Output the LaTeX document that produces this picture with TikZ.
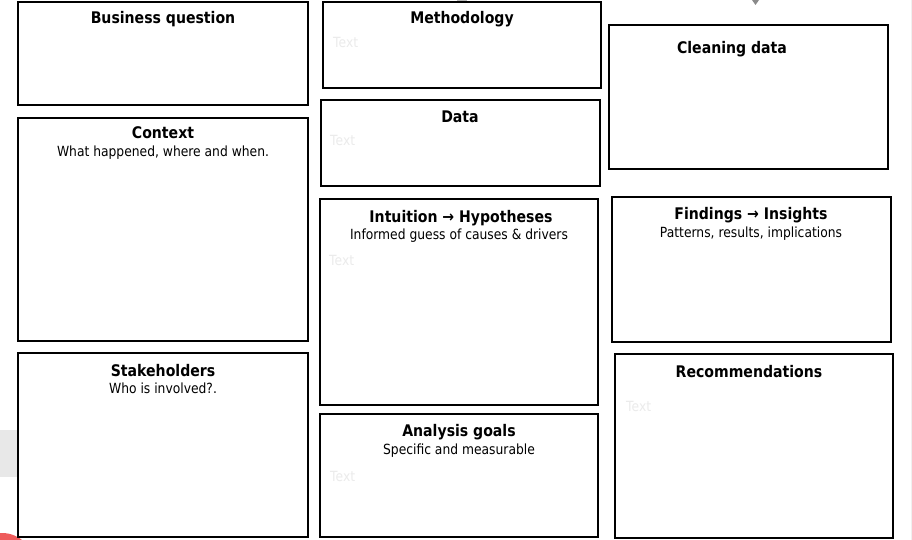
\documentclass[tikz,border=0pt]{standalone}
\usepackage{fontspec}
\setmainfont{DejaVu Sans}[FakeStretch=0.88]
\definecolor{phgray}{HTML}{EBEBEB}
\definecolor{bggray}{HTML}{E8E8E8}
\definecolor{redc}{HTML}{EE5B5B}
\definecolor{tri}{HTML}{8A8A8A}
\begin{document}
\begin{tikzpicture}[x=1pt,y=-1pt,
  box/.style={draw=black, line width=2.2pt, fill=white, inner sep=0pt, outer sep=0pt, anchor=north west},
  ttl/.style={font=\bfseries\fontsize{16}{18}\selectfont, anchor=base, inner sep=0pt},
  sub/.style={font=\fontsize{14}{16}\selectfont, anchor=base, inner sep=0pt},
  ph/.style={font=\fontsize{14}{16}\selectfont, text=phgray, anchor=base west, inner sep=0pt}]
\useasboundingbox (0,0) rectangle (912,540);
\begin{scope}
\clip (0,0) rectangle (912,540);
\fill[bggray] (0,430) rectangle (17,477);
\fill[redc] (2,565) circle (32);
\fill[tri] (752,0) -- (759,0) -- (755.5,5) -- cycle;
\fill[tri!60] (457,0) rectangle (467,2);
\draw[black!6, line width=1pt] (911,0) -- (911,540);
\end{scope}
% boxes
\node[box, minimum width=290pt, minimum height=103pt] (bq) at (18,2) {};
\node[box, minimum width=290pt, minimum height=223pt] (ctx) at (18,118) {};
\node[box, minimum width=290pt, minimum height=184pt] (stk) at (18,353) {};
\node[box, minimum width=278pt, minimum height=86pt] (meth) at (323,2) {};
\node[box, minimum width=279pt, minimum height=86pt] (data) at (321,100) {};
\node[box, minimum width=278pt, minimum height=206pt] (intu) at (320,199) {};
\node[box, minimum width=278pt, minimum height=123pt] (goal) at (320,414) {};
\node[box, minimum width=279pt, minimum height=144pt] (clean) at (609,25) {};
\node[box, minimum width=279pt, minimum height=145pt] (find) at (612,197) {};
\node[box, minimum width=278pt, minimum height=184pt] (rec) at (615,354) {};
% texts
\node[ttl] (bqt) at (163,24) {Business question};
\node[ttl] (ctxt) at (163,139) {Context};
\node[sub] (ctxs) at (163,157) {What happened, where and when.};
\node[ttl] (stkt) at (163,376) {Stakeholders};
\node[sub] (stks) at (163,393) {Who is involved?.};
\node[ttl] (metht) at (462,24) {Methodology};
\node[ph] (methp) at (333,48) {Text};
\node[ttl] (datat) at (460,123) {Data};
\node[ph] (datap) at (330,146) {Text};
\node[ttl] (intut) at (461,222) {Intuition \textbf{→} Hypotheses};
\node[sub] (intus) at (459,239) {Informed guess of causes \& drivers};
\node[ph] (intup) at (329,265) {Text};
\node[ttl] (goalt) at (459,436) {Analysis goals};
\node[sub] (goals) at (459,454) {Specific and measurable};
\node[ph] (goalp) at (330,481) {Text};
\node[ttl] (cleant) at (732,54) {Cleaning data};
\node[ttl] (findt) at (751,219) {Findings → Insights};
\node[sub] (finds) at (751,237) {Patterns, results, implications};
\node[ttl] (rect) at (749,377) {Recommendations};
\node[ph] (recp) at (626,411) {Text};
\end{tikzpicture}
\end{document}
